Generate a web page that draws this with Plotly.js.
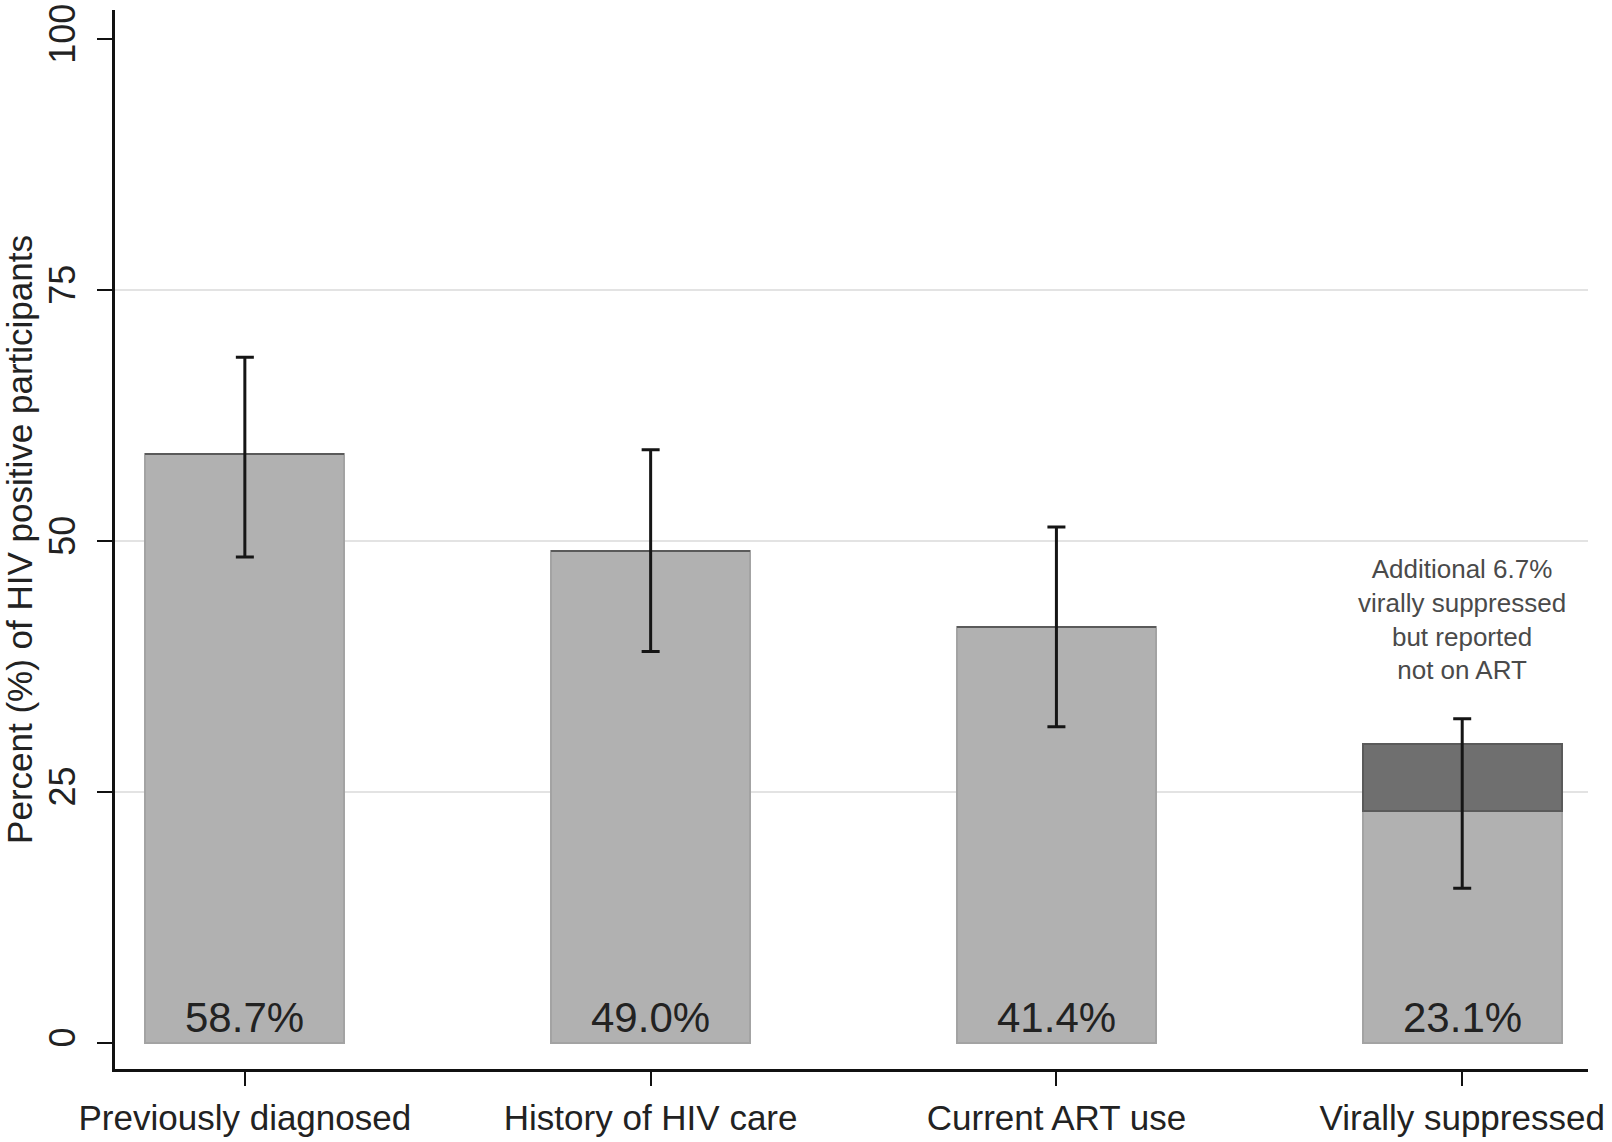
<!DOCTYPE html>
<html>
<head>
<meta charset="utf-8">
<script src="https://cdn.plot.ly/plotly-3.0.1.min.js"></script>
<style>html,body{margin:0;padding:0;background:#fff;}#chart{width:1612px;height:1142px;}</style>
</head>
<body>
<div id="chart"></div>
<script>
// ---- data ----
const categories = ["Previously diagnosed", "History of HIV care", "Current ART use", "Virally suppressed"];
const values = [58.7, 49.0, 41.4, 23.1];
const additional = [0, 0, 0, 6.7];
const ciLow = [48.4, 39.0, 31.5, 15.4];
const ciHigh = [68.3, 59.1, 51.4, 32.3];
const valueLabels = ["58.7%", "49.0%", "41.4%", "23.1%"];
const noteText = "Additional 6.7%<br>virally suppressed<br>but reported<br>not on ART";
const yTicks = [0, 25, 50, 75, 100];
const gridTicks = [25, 50, 75];

const FONT = "Liberation Sans, Arial, sans-serif";

const traces = [
  {type: "scatter", x: categories, y: values, yaxis: "y2", mode: "none", hoverinfo: "skip", showlegend: false},
  {
    type: "bar", x: categories, y: values, width: 0.49,
    marker: {color: "#b1b1b1", line: {color: "#a3a3a3", width: 2}},
    hoverinfo: "skip", showlegend: false
  },
  {
    type: "bar", x: categories, y: additional, width: 0.49,
    marker: {color: "#6f6f6f", line: {color: "#5a5a5a", width: 2}},
    hoverinfo: "skip", showlegend: false
  },
  {
    type: "scatter", mode: "markers", x: categories, y: values,
    marker: {opacity: 0, size: 1},
    error_y: {
      type: "data", symmetric: false,
      array: ciHigh.map((h, i) => h - values[i]),
      arrayminus: ciLow.map((l, i) => values[i] - l),
      color: "#151515", thickness: 3, width: 9
    },
    hoverinfo: "skip", showlegend: false
  }
];

const annotations = categories.map((c, i) => ({
  x: c, y: 0, xref: "x", yref: "y", yanchor: "bottom",
  text: valueLabels[i], showarrow: false,
  font: {family: FONT, size: 42, color: "#222"}
}));
annotations.push({
  x: categories[3], y: 42.2, xref: "x", yref: "y",
  text: noteText, showarrow: false, align: "center",
  font: {family: FONT, size: 26, color: "#4a4a4a"}
});

const layout = {
  width: 1612, height: 1142,
  margin: {l: 115, r: 24, t: 10, b: 73},
  paper_bgcolor: "#fff", plot_bgcolor: "#fff",
  barmode: "stack",
  showlegend: false,
  xaxis: {
    type: "category", range: [-0.32, 3.31],
    showline: true, linecolor: "#111", linewidth: 3,
    ticks: "outside", ticklen: 14, tickwidth: 2, tickcolor: "#111",
    ticklabelstandoff: 2,
    tickfont: {family: FONT, size: 35, color: "#222"},
    showgrid: false, zeroline: false
  },
  yaxis: {
    range: [-2.6, 102.9],
    tickvals: yTicks, ticktext: yTicks.map(String),
    tickangle: -90,
    showline: true, linecolor: "#111", linewidth: 3,
    ticks: "outside", ticklen: 15, tickwidth: 2, tickcolor: "#111",
    ticklabelstandoff: 8,
    tickfont: {family: FONT, size: 36, color: "#222"},
    showgrid: false, zeroline: false,
    title: {text: "Percent (%) of HIV positive participants", standoff: 2,
            font: {family: FONT, size: 35, color: "#222"}}
  },
  yaxis2: {
    overlaying: "y", range: [-2.6, 102.9],
    tickvals: gridTicks, showticklabels: false, ticks: "",
    showgrid: true, gridcolor: "#e3e3e3", gridwidth: 2,
    showline: false, zeroline: false
  },
  annotations: annotations
};

Plotly.newPlot("chart", traces, layout, {displayModeBar: false, staticPlot: true});
</script>
</body>
</html>
